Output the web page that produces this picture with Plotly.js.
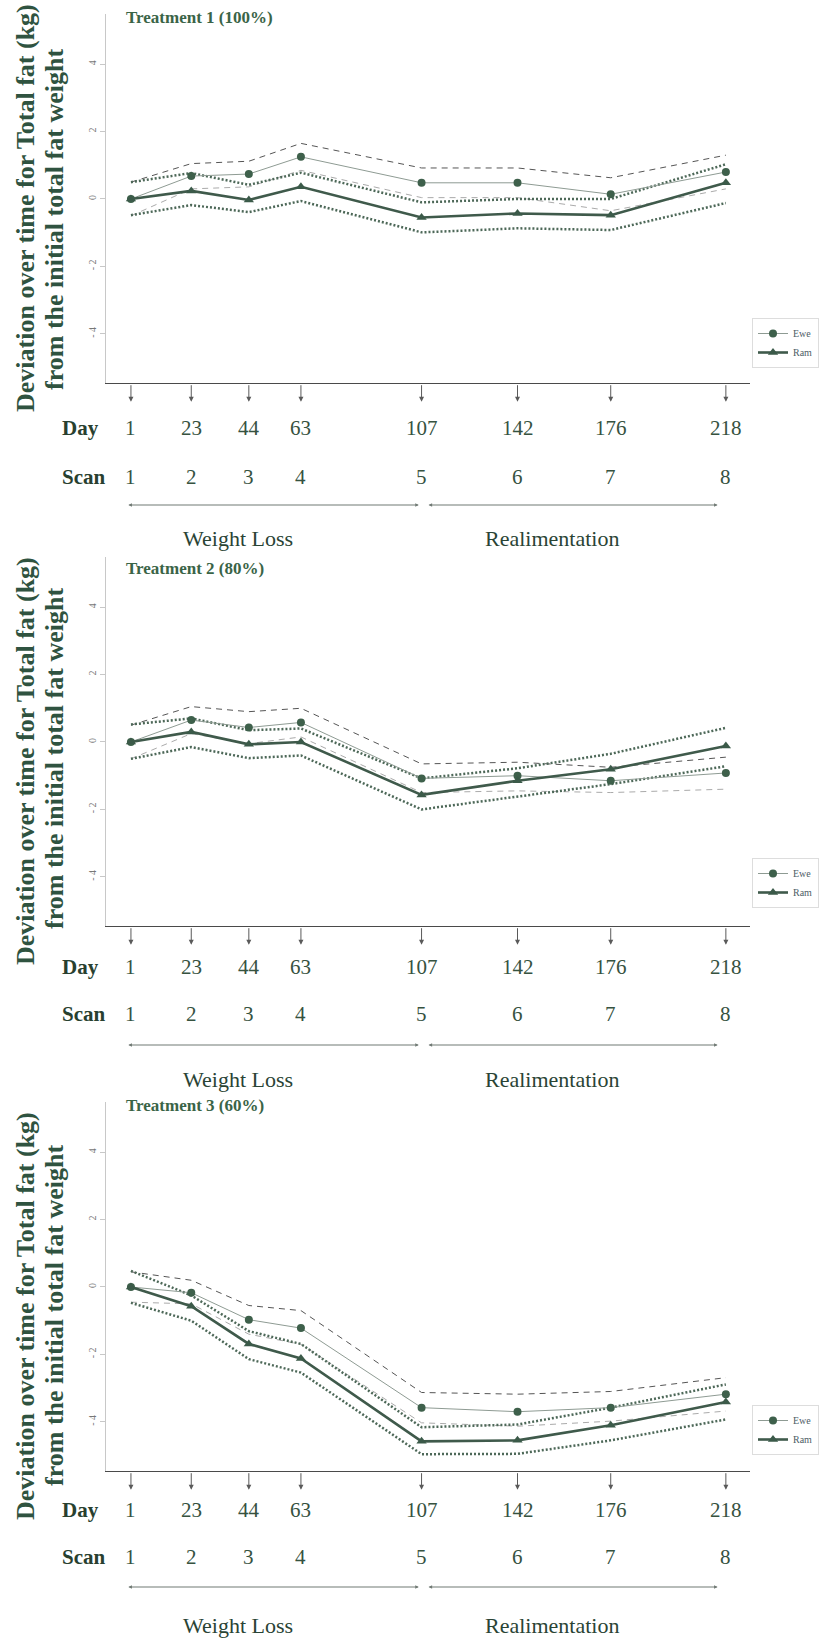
<!DOCTYPE html>
<html>
<head>
<meta charset="utf-8">
<script src="https://cdn.plot.ly/plotly-3.0.1.min.js"></script>
<style>html,body{margin:0;padding:0;background:#fff;}#chart{width:831px;height:1640px;}</style>
</head>
<body>
<div id="chart"></div>
<script>
// ---------- data ----------
const days = [1, 23, 44, 63, 107, 142, 176, 218];
const dayLabels = ['1', '23', '44', '63', '107', '142', '176', '218'];
const scanLabels = ['1', '2', '3', '4', '5', '6', '7', '8'];
const yTickVals = [-4, -2, 0, 2, 4];
const yTickText = ['- 4', '- 2', '0', '2', '4'];
const seriesNames = ['Ewe', 'Ram'];
const phaseNames = ['Weight Loss', 'Realimentation'];
const treatmentTitles = ['Treatment 1 (100%)', 'Treatment 2 (80%)', 'Treatment 3 (60%)'];
const yTitle1 = 'Deviation over time for Total fat (kg)';
const yTitle2 = 'from the initial total fat weight';

// Treatment 1
const ewe1   = [0, 0.68, 0.74, 1.25, 0.48, 0.48, 0.14, 0.80];
const ewe1Up = [0.5, 1.05, 1.12, 1.65, 0.92, 0.92, 0.63, 1.30];
const ewe1Lo = [-0.5, 0.30, 0.36, 0.85, 0.04, 0.04, -0.35, 0.30];
const ram1   = [0, 0.24, -0.03, 0.36, -0.55, -0.43, -0.48, 0.48];
const ram1Up = [0.5, 0.77, 0.42, 0.78, -0.10, 0.0, 0.0, 1.03];
const ram1Lo = [-0.48, -0.18, -0.39, -0.06, -0.99, -0.87, -0.92, -0.12];
// Treatment 2
const ewe2   = [0, 0.65, 0.43, 0.58, -1.08, -1.0, -1.15, -0.92];
const ewe2Up = [0.5, 1.05, 0.9, 1.0, -0.65, -0.6, -0.75, -0.45];
const ewe2Lo = [-0.5, 0.25, -0.05, 0.15, -1.5, -1.45, -1.5, -1.4];
const ram2   = [0, 0.3, -0.07, 0, -1.57, -1.15, -0.81, -0.12];
const ram2Up = [0.52, 0.7, 0.35, 0.4, -1.08, -0.78, -0.35, 0.42];
const ram2Lo = [-0.5, -0.15, -0.48, -0.4, -2.0, -1.63, -1.25, -0.72];
// Treatment 3
const ewe3   = [0, -0.17, -0.97, -1.22, -3.58, -3.7, -3.58, -3.18];
const ewe3Up = [0.45, 0.2, -0.55, -0.7, -3.13, -3.18, -3.1, -2.69];
const ewe3Lo = [-0.45, -0.5, -1.4, -1.7, -4.03, -4.13, -3.98, -3.68];
const ram3   = [0, -0.57, -1.69, -2.12, -4.58, -4.55, -4.1, -3.41];
const ram3Up = [0.48, -0.25, -1.31, -1.69, -4.16, -4.08, -3.58, -2.89];
const ram3Lo = [-0.47, -1.0, -2.14, -2.54, -4.96, -4.95, -4.55, -3.93];

const panelsData = [
  {ewe: ewe1, eweUp: ewe1Up, eweLo: ewe1Lo, ram: ram1, ramUp: ram1Up, ramLo: ram1Lo},
  {ewe: ewe2, eweUp: ewe2Up, eweLo: ewe2Lo, ram: ram2, ramUp: ram2Up, ramLo: ram2Lo},
  {ewe: ewe3, eweUp: ewe3Up, eweLo: ewe3Lo, ram: ram3, ramUp: ram3Up, ramLo: ram3Lo}
];

// ---------- layout geometry (pixels) ----------
const W = 831, H = 1640;
const plotLeft = 106, plotRight = 750;
const geom = [
  {top: 13.6,   bottom: 382.7,  day: 428,  scan: 477,  line: 505,  phase: 539,  title: 17,   yt1: 208,  yt2: 220,  leg: 318},
  {top: 556.6,  bottom: 925.7,  day: 967,  scan: 1014, line: 1045, phase: 1079, title: 568,  yt1: 761,  yt2: 759,  leg: 858},
  {top: 1101.6, bottom: 1470.7, day: 1510, scan: 1557, line: 1587, phase: 1625, title: 1105, yt1: 1316, yt2: 1316, leg: 1405}
];
const py = v => 1 - v / H;
const px = v => v / W;

const serif = 'Liberation Serif, Times New Roman, serif';
const darkGreen = '#2f5340';
const lineCol = '#3f5a4b';

const traces = [];
const layout = {
  width: W, height: H,
  margin: {l: 0, r: 0, t: 0, b: 0},
  paper_bgcolor: '#fff', plot_bgcolor: '#fff',
  font: {family: serif, color: darkGreen},
  annotations: [],
  showlegend: true
};

panelsData.forEach((p, i) => {
  const n = i + 1;
  const xa = 'x' + (n === 1 ? '' : n);
  const ya = 'y' + (n === 1 ? '' : n);
  const legName = 'legend' + (n === 1 ? '' : n);
  const g = geom[i];

  const common = {x: days, xaxis: xa, yaxis: ya, hoverinfo: 'skip'};
  // Ewe CI (dashed)
  traces.push(Object.assign({}, common, {y: p.eweUp, mode: 'lines', showlegend: false,
    line: {color: '#555', width: 1, dash: '6px,5px'}}));
  traces.push(Object.assign({}, common, {y: p.eweLo, mode: 'lines', showlegend: false,
    line: {color: '#aaa', width: 1, dash: '6px,5px'}}));
  // Ram CI (dotted)
  traces.push(Object.assign({}, common, {y: p.ramUp, mode: 'lines', showlegend: false,
    line: {color: '#4d6858', width: 2.5, dash: '2px,2px'}}));
  traces.push(Object.assign({}, common, {y: p.ramLo, mode: 'lines', showlegend: false,
    line: {color: '#4d6858', width: 2.5, dash: '2px,2px'}}));
  // Ewe mean
  traces.push(Object.assign({}, common, {y: p.ewe, mode: 'lines+markers', name: seriesNames[0],
    legend: legName, line: {color: '#8e9b93', width: 1},
    marker: {symbol: 'circle', size: 8, color: '#3e604b'}}));
  // Ram mean
  traces.push(Object.assign({}, common, {y: p.ram, mode: 'lines+markers', name: seriesNames[1],
    legend: legName, line: {color: lineCol, width: 2.6},
    marker: {symbol: 'triangle-up', size: 9, color: '#3b5a49'}}));

  layout['xaxis' + (n === 1 ? '' : n)] = {
    domain: [px(plotLeft), px(plotRight)], range: [-8.1, 226.8], anchor: ya,
    showline: true, linecolor: '#4a4a4a', linewidth: 1.5, mirror: false,
    showgrid: false, zeroline: false, ticks: '', showticklabels: false, fixedrange: true
  };
  layout['yaxis' + (n === 1 ? '' : n)] = {
    domain: [py(g.bottom), py(g.top)], range: [-5.45, 5.5], anchor: xa,
    showline: true, linecolor: '#c8c8c8', linewidth: 1,
    showgrid: false, zeroline: false, ticks: 'outside', ticklen: 5, tickcolor: '#c8c8c8',
    tickvals: yTickVals, ticktext: yTickText, tickangle: -90,
    tickfont: {family: serif, size: 10, color: '#777'}, fixedrange: true
  };
  layout[legName] = {
    x: px(752), y: py(g.leg), xanchor: 'left', yanchor: 'top',
    bgcolor: '#fff', bordercolor: '#ddd', borderwidth: 1,
    font: {family: serif, size: 10, color: '#4d5d66'}, itemwidth: 30,
    tracegroupgap: 4
  };

  const A = layout.annotations;
  // treatment title
  A.push({xref: 'paper', yref: 'paper', x: px(124), y: py(g.title), xanchor: 'left', yanchor: 'middle',
    text: '<b>' + treatmentTitles[i] + '</b>', showarrow: false,
    font: {family: serif, size: 17, color: '#3a6447'}});
  // y titles
  A.push({xref: 'paper', yref: 'paper', x: px(25), y: py(g.yt1), xanchor: 'center', yanchor: 'middle',
    text: '<b>' + yTitle1 + '</b>', textangle: -90, showarrow: false,
    font: {family: serif, size: 26, color: darkGreen}});
  A.push({xref: 'paper', yref: 'paper', x: px(54), y: py(g.yt2), xanchor: 'center', yanchor: 'middle',
    text: '<b>' + yTitle2 + '</b>', textangle: -90, showarrow: false,
    font: {family: serif, size: 26, color: darkGreen}});
  // Day / Scan row headers
  A.push({xref: 'paper', yref: 'paper', x: px(60), y: py(g.day), xanchor: 'left', yanchor: 'middle',
    text: '<b>Day</b>', showarrow: false, font: {family: serif, size: 21, color: '#28402f'}});
  A.push({xref: 'paper', yref: 'paper', x: px(60), y: py(g.scan), xanchor: 'left', yanchor: 'middle',
    text: '<b>Scan</b>', showarrow: false, font: {family: serif, size: 21, color: '#28402f'}});
  days.forEach((d, k) => {
    // arrow below axis
    A.push({xref: xa, yref: 'paper', x: d, y: py(g.bottom + 19), ax: 0, ay: -18,
      text: '', showarrow: true, arrowhead: 2, arrowsize: 1, arrowwidth: 1, arrowcolor: '#5a5a5a'});
    A.push({xref: xa, yref: 'paper', x: d, y: py(g.day), xanchor: 'center', yanchor: 'middle',
      text: dayLabels[k], showarrow: false, font: {family: serif, size: 21, color: '#36523f'}});
    A.push({xref: xa, yref: 'paper', x: d, y: py(g.scan), xanchor: 'center', yanchor: 'middle',
      text: scanLabels[k], showarrow: false, font: {family: serif, size: 21, color: '#36523f'}});
  });
  // phase arrows
  A.push({xref: xa, yref: 'paper', x: days[4] - 1, y: py(g.line), axref: xa, ax: days[0] - 1.5, ayref: 'pixel', ay: 0,
    text: '', showarrow: true, arrowside: 'end+start', arrowhead: 2, arrowsize: 0.6, arrowwidth: 1.2, arrowcolor: '#707a74'});
  A.push({xref: xa, yref: 'paper', x: days[7] - 3, y: py(g.line), axref: xa, ax: days[4] + 2, ayref: 'pixel', ay: 0,
    text: '', showarrow: true, arrowside: 'end+start', arrowhead: 2, arrowsize: 0.6, arrowwidth: 1.2, arrowcolor: '#707a74'});
  // phase labels
  A.push({xref: 'paper', yref: 'paper', x: px(238), y: py(g.phase), xanchor: 'center', yanchor: 'middle',
    text: phaseNames[0], showarrow: false, font: {family: serif, size: 22, color: '#2a4435'}});
  A.push({xref: 'paper', yref: 'paper', x: px(552), y: py(g.phase), xanchor: 'center', yanchor: 'middle',
    text: phaseNames[1], showarrow: false, font: {family: serif, size: 22, color: '#2a4435'}});
});

Plotly.newPlot('chart', traces, layout, {displayModeBar: false, staticPlot: true});
</script>
</body>
</html>
